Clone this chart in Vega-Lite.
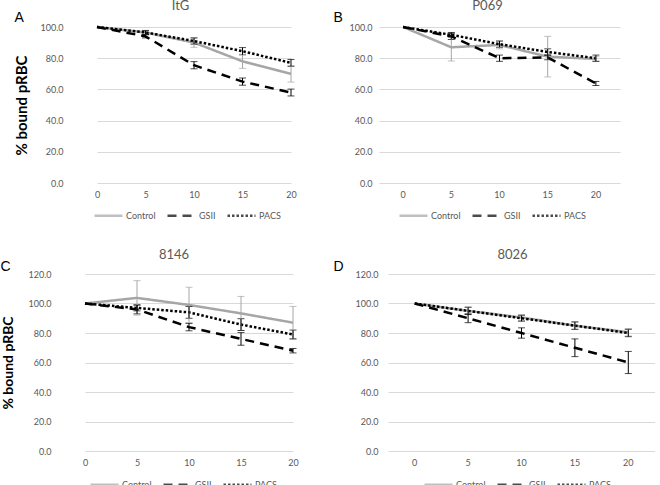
{
  "$schema": "https://vega.github.io/schema/vega-lite/v6.json",
  "padding": {"left": 0, "top": 0, "right": 0, "bottom": 0},
  "background": "white",
  "config": {
    "view": {"stroke": null},
    "font": "Lato",
    "axis": {"labelFont": "Lato", "labelFontSize": 9, "labelColor": "#595959", "domain": false, "ticks": false, "titleFont": "Lato", "titleFontWeight": "bold", "titleColor": "#000000", "titleFontSize": 15, "labelOverlap": false},
    "axisX": {"grid": false, "labelAngle": 0, "labelPadding": 7},
    "axisY": {"grid": true, "gridColor": "#d9d9d9", "gridWidth": 1},
    "title": {"font": "Lato", "fontSize": 13, "fontWeight": "normal", "color": "#595959", "offset": -3},
    "legend": {"orient": "none", "direction": "horizontal", "symbolType": "stroke", "symbolSize": 784, "symbolStrokeWidth": 2.5, "labelFont": "Lato", "labelFontSize": 9, "labelColor": "#595959", "columnPadding": 6, "labelOffset": 2}
  },
  "datasets": {
    "d": [
      {"p": "A", "s": "Control", "t": 0, "v": 100, "e": 0},
      {"p": "A", "s": "Control", "t": 5, "v": 96.5, "e": 1.3},
      {"p": "A", "s": "Control", "t": 10, "v": 90, "e": 3},
      {"p": "A", "s": "Control", "t": 15, "v": 78, "e": 4.5},
      {"p": "A", "s": "Control", "t": 20, "v": 70, "e": 5.3},
      {"p": "A", "s": "GSII", "t": 0, "v": 100, "e": 0},
      {"p": "A", "s": "GSII", "t": 5, "v": 94, "e": 1},
      {"p": "A", "s": "GSII", "t": 10, "v": 75.5, "e": 2.3},
      {"p": "A", "s": "GSII", "t": 15, "v": 65, "e": 2.3},
      {"p": "A", "s": "GSII", "t": 20, "v": 58, "e": 2.2},
      {"p": "A", "s": "PACS", "t": 0, "v": 100, "e": 0},
      {"p": "A", "s": "PACS", "t": 5, "v": 96.5, "e": 1.3},
      {"p": "A", "s": "PACS", "t": 10, "v": 91, "e": 2},
      {"p": "A", "s": "PACS", "t": 15, "v": 84.5, "e": 2.3},
      {"p": "A", "s": "PACS", "t": 20, "v": 77, "e": 2.2},
      {"p": "B", "s": "Control", "t": 0, "v": 100, "e": 0},
      {"p": "B", "s": "Control", "t": 5, "v": 87, "e": 8.8},
      {"p": "B", "s": "Control", "t": 10, "v": 88.5, "e": 2.5},
      {"p": "B", "s": "Control", "t": 15, "v": 81, "e": 13},
      {"p": "B", "s": "Control", "t": 20, "v": 79.5, "e": 1.5},
      {"p": "B", "s": "GSII", "t": 0, "v": 100, "e": 0},
      {"p": "B", "s": "GSII", "t": 5, "v": 94, "e": 2},
      {"p": "B", "s": "GSII", "t": 10, "v": 80, "e": 2},
      {"p": "B", "s": "GSII", "t": 15, "v": 80.5, "e": 1.5},
      {"p": "B", "s": "GSII", "t": 20, "v": 63.8, "e": 1.3},
      {"p": "B", "s": "PACS", "t": 0, "v": 100, "e": 0},
      {"p": "B", "s": "PACS", "t": 5, "v": 95, "e": 1.5},
      {"p": "B", "s": "PACS", "t": 10, "v": 89, "e": 2},
      {"p": "B", "s": "PACS", "t": 15, "v": 84, "e": 2},
      {"p": "B", "s": "PACS", "t": 20, "v": 80, "e": 2},
      {"p": "C", "s": "Control", "t": 0, "v": 100, "e": 0},
      {"p": "C", "s": "Control", "t": 5, "v": 103.8, "e": 11.7},
      {"p": "C", "s": "Control", "t": 10, "v": 99, "e": 12},
      {"p": "C", "s": "Control", "t": 15, "v": 93.3, "e": 11.5},
      {"p": "C", "s": "Control", "t": 20, "v": 87, "e": 11},
      {"p": "C", "s": "GSII", "t": 0, "v": 100, "e": 0},
      {"p": "C", "s": "GSII", "t": 5, "v": 96, "e": 3},
      {"p": "C", "s": "GSII", "t": 10, "v": 84, "e": 2.5},
      {"p": "C", "s": "GSII", "t": 15, "v": 76, "e": 4.3},
      {"p": "C", "s": "GSII", "t": 20, "v": 68, "e": 1.5},
      {"p": "C", "s": "PACS", "t": 0, "v": 100, "e": 0},
      {"p": "C", "s": "PACS", "t": 5, "v": 97, "e": 2},
      {"p": "C", "s": "PACS", "t": 10, "v": 94, "e": 4},
      {"p": "C", "s": "PACS", "t": 15, "v": 85.7, "e": 4},
      {"p": "C", "s": "PACS", "t": 20, "v": 79, "e": 3},
      {"p": "D", "s": "Control", "t": 0, "v": 100, "e": 0},
      {"p": "D", "s": "Control", "t": 5, "v": 95, "e": 2.5},
      {"p": "D", "s": "Control", "t": 10, "v": 90.5, "e": 2},
      {"p": "D", "s": "Control", "t": 15, "v": 85, "e": 2.5},
      {"p": "D", "s": "Control", "t": 20, "v": 80.5, "e": 2.5},
      {"p": "D", "s": "GSII", "t": 0, "v": 100, "e": 0},
      {"p": "D", "s": "GSII", "t": 5, "v": 90, "e": 3},
      {"p": "D", "s": "GSII", "t": 10, "v": 80, "e": 3.5},
      {"p": "D", "s": "GSII", "t": 15, "v": 70, "e": 6},
      {"p": "D", "s": "GSII", "t": 20, "v": 60, "e": 7.5},
      {"p": "D", "s": "PACS", "t": 0, "v": 100, "e": 0},
      {"p": "D", "s": "PACS", "t": 5, "v": 95, "e": 2.5},
      {"p": "D", "s": "PACS", "t": 10, "v": 90, "e": 2},
      {"p": "D", "s": "PACS", "t": 15, "v": 85, "e": 2.5},
      {"p": "D", "s": "PACS", "t": 20, "v": 80, "e": 2.5}
    ]
  },
  "data": {"name": "d"},
  "columns": 2,
  "align": "none",
  "spacing": {"row": 28, "column": 15},
  "resolve": {"scale": {"x": "independent", "y": "independent", "color": "independent", "strokeDash": "independent"}},
  "concat": [
    {
      "width": 249, "height": 156,
      "title": {"text": "ItG", "dx": -10},
      "transform": [{"filter": "datum.p === 'A'"}],
      "resolve": {"axis": {"x": "independent"}},
      "layer": [
        {
          "mark": {"type": "line", "strokeWidth": 2.5},
          "encoding": {
            "x": {"field": "t", "type": "ordinal", "scale": {"type": "point", "padding": 0, "range": [31, 225]}, "axis": {"title": null}},
            "y": {"field": "v", "type": "quantitative", "title": "% bound pRBC", "scale": {"domain": [0, 100]}, "axis": {"values": [0, 20, 40, 60, 80, 100], "format": ".1f", "labelPadding": 3, "titlePadding": 10}},
            "color": {"field": "s", "type": "nominal", "scale": {"domain": ["Control", "GSII", "PACS"], "range": ["#a6a6a6", "#000000", "#000000"]}, "legend": {"title": null, "legendX": 27, "legendY": 173}},
            "strokeDash": {"field": "s", "type": "nominal", "scale": {"domain": ["Control", "GSII", "PACS"], "range": [[1, 0], [9, 6], [2.5, 2]]}, "legend": {"title": null, "legendX": 27, "legendY": 173}}
          }
        },
        {
          "transform": [{"filter": "datum.e > 0"}],
          "mark": {"type": "errorbar", "ticks": {"size": 7}, "thickness": 1},
          "encoding": {
            "x": {"field": "t", "type": "ordinal", "axis": {"orient": "top", "labels": false, "ticks": false, "domain": false, "grid": false, "title": "A", "titleFont": "Liberation Sans", "titleFontSize": 14, "titleFontWeight": "normal", "titleColor": "#000000", "titleAngle": 0, "titleAlign": "left", "titleBaseline": "alphabetic", "titleX": -52, "titleY": -6}},
            "y": {"field": "v", "type": "quantitative", "title": "% bound pRBC", "axis": {"values": [0, 20, 40, 60, 80, 100], "format": ".1f", "labelPadding": 3, "titlePadding": 10}},
            "yError": {"field": "e"},
            "color": {"field": "s", "type": "nominal", "legend": {"title": null, "legendX": 27, "legendY": 173}}
          }
        }
      ]
    },
    {
      "width": 241, "height": 156,
      "title": {"text": "P069", "dx": -12},
      "transform": [{"filter": "datum.p === 'B'"}],
      "resolve": {"axis": {"x": "independent"}},
      "layer": [
        {
          "mark": {"type": "line", "strokeWidth": 2.5},
          "encoding": {
            "x": {"field": "t", "type": "ordinal", "axis": {"title": null}},
            "y": {"field": "v", "type": "quantitative", "title": null, "scale": {"domain": [0, 100]}, "axis": {"values": [0, 20, 40, 60, 80, 100], "format": ".1f", "labelPadding": 7}},
            "color": {"field": "s", "type": "nominal", "scale": {"domain": ["Control", "GSII", "PACS"], "range": ["#a6a6a6", "#000000", "#000000"]}, "legend": {"title": null, "legendX": 19, "legendY": 173}},
            "strokeDash": {"field": "s", "type": "nominal", "scale": {"domain": ["Control", "GSII", "PACS"], "range": [[1, 0], [9, 6], [2.5, 2]]}, "legend": {"title": null, "legendX": 19, "legendY": 173}}
          }
        },
        {
          "transform": [{"filter": "datum.e > 0"}],
          "mark": {"type": "errorbar", "ticks": {"size": 7}, "thickness": 1},
          "encoding": {
            "x": {"field": "t", "type": "ordinal", "axis": {"orient": "top", "labels": false, "ticks": false, "domain": false, "grid": false, "title": "B", "titleFont": "Liberation Sans", "titleFontSize": 14, "titleFontWeight": "normal", "titleColor": "#000000", "titleAngle": 0, "titleAlign": "left", "titleBaseline": "alphabetic", "titleX": -46, "titleY": -6}},
            "y": {"field": "v", "type": "quantitative", "title": null, "axis": {"values": [0, 20, 40, 60, 80, 100], "format": ".1f", "labelPadding": 7}},
            "yError": {"field": "e"},
            "color": {"field": "s", "type": "nominal", "legend": {"title": null, "legendX": 19, "legendY": 173}}
          }
        }
      ]
    },
    {
      "width": 252, "height": 177,
      "title": {"text": "8146", "dx": -18},
      "transform": [{"filter": "datum.p === 'C'"}],
      "resolve": {"axis": {"x": "independent"}},
      "layer": [
        {
          "mark": {"type": "line", "strokeWidth": 2.5},
          "encoding": {
            "x": {"field": "t", "type": "ordinal", "scale": {"type": "point", "padding": 0, "range": [19, 227]}, "axis": {"title": null}},
            "y": {"field": "v", "type": "quantitative", "title": "% bound pRBC", "scale": {"domain": [0, 120]}, "axis": {"values": [0, 20, 40, 60, 80, 100, 120], "format": ".1f", "labelPadding": 15, "titlePadding": 12, "titleFontSize": 14}},
            "color": {"field": "s", "type": "nominal", "scale": {"domain": ["Control", "GSII", "PACS"], "range": ["#a6a6a6", "#000000", "#000000"]}, "legend": {"title": null, "legendX": 23, "legendY": 195}},
            "strokeDash": {"field": "s", "type": "nominal", "scale": {"domain": ["Control", "GSII", "PACS"], "range": [[1, 0], [9, 6], [2.5, 2]]}, "legend": {"title": null, "legendX": 23, "legendY": 195}}
          }
        },
        {
          "transform": [{"filter": "datum.e > 0"}],
          "mark": {"type": "errorbar", "ticks": {"size": 7}, "thickness": 1},
          "encoding": {
            "x": {"field": "t", "type": "ordinal", "axis": {"orient": "top", "labels": false, "ticks": false, "domain": false, "grid": false, "title": "\u00a0\u00a0C", "titleFont": "Liberation Sans", "titleFontSize": 14, "titleFontWeight": "normal", "titleColor": "#000000", "titleAngle": 0, "titleAlign": "left", "titleBaseline": "alphabetic", "titleX": -66, "titleY": -4}},
            "y": {"field": "v", "type": "quantitative", "title": "% bound pRBC", "axis": {"values": [0, 20, 40, 60, 80, 100, 120], "format": ".1f", "labelPadding": 15, "titlePadding": 12, "titleFontSize": 14}},
            "yError": {"field": "e"},
            "color": {"field": "s", "type": "nominal", "legend": {"title": null, "legendX": 23, "legendY": 195}}
          }
        }
      ]
    },
    {
      "width": 267, "height": 177,
      "title": {"text": "8026", "dx": -9},
      "transform": [{"filter": "datum.p === 'D'"}],
      "resolve": {"axis": {"x": "independent"}},
      "layer": [
        {
          "mark": {"type": "line", "strokeWidth": 2.5},
          "encoding": {
            "x": {"field": "t", "type": "ordinal", "axis": {"title": null}},
            "y": {"field": "v", "type": "quantitative", "title": null, "scale": {"domain": [0, 120]}, "axis": {"values": [0, 20, 40, 60, 80, 100, 120], "format": ".1f", "labelPadding": 10}},
            "color": {"field": "s", "type": "nominal", "scale": {"domain": ["Control", "GSII", "PACS"], "range": ["#a6a6a6", "#000000", "#000000"]}, "legend": {"title": null, "legendX": 35, "legendY": 195}},
            "strokeDash": {"field": "s", "type": "nominal", "scale": {"domain": ["Control", "GSII", "PACS"], "range": [[1, 0], [9, 6], [2.5, 2]]}, "legend": {"title": null, "legendX": 35, "legendY": 195}}
          }
        },
        {
          "transform": [{"filter": "datum.e > 0"}],
          "mark": {"type": "errorbar", "ticks": {"size": 7}, "thickness": 1},
          "encoding": {
            "x": {"field": "t", "type": "ordinal", "axis": {"orient": "top", "labels": false, "ticks": false, "domain": false, "grid": false, "title": "D", "titleFont": "Liberation Sans", "titleFontSize": 14, "titleFontWeight": "normal", "titleColor": "#000000", "titleAngle": 0, "titleAlign": "left", "titleBaseline": "alphabetic", "titleX": -55, "titleY": -4}},
            "y": {"field": "v", "type": "quantitative", "title": null, "axis": {"values": [0, 20, 40, 60, 80, 100, 120], "format": ".1f", "labelPadding": 10}},
            "yError": {"field": "e"},
            "color": {"field": "s", "type": "nominal", "legend": {"title": null, "legendX": 35, "legendY": 195}}
          }
        }
      ]
    }
  ]
}
